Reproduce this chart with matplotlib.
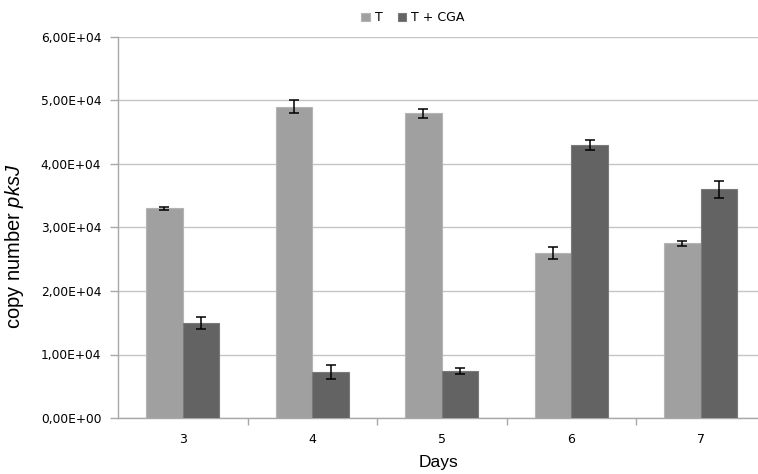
import numpy as np
import matplotlib.pyplot as plt
from matplotlib.ticker import FuncFormatter, FixedLocator

plt.rcParams['font.family'] = ['DejaVu Sans']
plt.rcParams['mathtext.fontset'] = 'custom'
plt.rcParams['mathtext.it'] = 'Liberation Sans:italic'
plt.rcParams['mathtext.rm'] = 'Liberation Sans'

days = ['3', '4', '5', '6', '7']
t_vals = [33000, 49000, 48000, 26000, 27500]
t_err = [250, 1000, 700, 1000, 400]
cga_vals = [15000, 7300, 7400, 43000, 36000]
cga_err = [950, 1100, 400, 800, 1400]

c_t = '#a0a0a0'
c_cga = '#636363'

fig = plt.figure(figsize=(7.58, 4.74), dpi=100)
ax = fig.add_axes([118 / 758, 1 - 418 / 474, 1 - 118 / 758, (418 - 37) / 474])

x = np.arange(len(days))
w = 0.283
err_kw = dict(ecolor='black', elinewidth=1.1, capsize=3.5, capthick=1.1)
ax.bar(x - w / 2, t_vals, w, yerr=t_err, color=c_t, edgecolor='#b4b4b4',
       linewidth=0.8, label='T', error_kw=err_kw, zorder=3)
ax.bar(x + w / 2, cga_vals, w, yerr=cga_err, color=c_cga, edgecolor='#7a7a7a',
       linewidth=0.8, label='T + CGA', error_kw=err_kw, zorder=3)

ax.set_ylim(0, 60000)
ax.set_yticks(np.arange(0, 60001, 10000))
ax.yaxis.set_major_formatter(FuncFormatter(
    lambda v, p: ('%.2E' % v).replace('.', ',')))
ax.set_xlim(-0.5, 4.5 - 7.5 / 129.5)
ax.set_xticks(x)
ax.set_xticklabels(days)
ax.xaxis.set_minor_locator(FixedLocator([0.5, 1.5, 2.5, 3.5]))
ax.tick_params(axis='x', which='major', length=0, pad=11, labelsize=9)
ax.tick_params(axis='x', which='minor', length=5, color='#a8a8a8', width=1)
ax.tick_params(axis='y', length=6, color='#a8a8a8', width=1, labelsize=8.8,
               pad=6)

ax.grid(axis='y', color='#c4c4c4', linewidth=1, zorder=0)
for s in ['top', 'right']:
    ax.spines[s].set_visible(False)
for s in ['left', 'bottom']:
    ax.spines[s].set_color('#a8a8a8')
    ax.spines[s].set_linewidth(1)

ax.set_ylabel('copy number $\\it{pksJ}$', fontsize=14.5,
              family='Liberation Sans')
ax.yaxis.set_label_coords(-0.143, 0.452)
ax.set_xlabel('Days', fontsize=12.5, labelpad=6, family='Liberation Sans')

ax.legend(loc='upper center', bbox_to_anchor=(413 / 758, 1.0),
          bbox_transform=fig.transFigure,
          ncol=2, frameon=False, fontsize=9, handlelength=0.7,
          handleheight=0.7, handletextpad=0.4, columnspacing=1.2)

fig.savefig('out.png', dpi=100)
